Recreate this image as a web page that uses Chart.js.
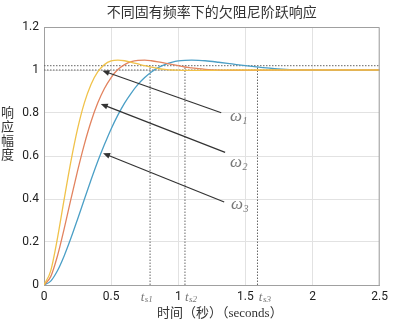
<!DOCTYPE html>
<html>
<head>
<meta charset="utf-8">
<script src="https://cdn.jsdelivr.net/npm/chart.js@4/dist/chart.umd.min.js"></script>
<style>
  body { margin: 0; background: #fff; }
  #wrap { width: 393px; height: 323px; }
</style>
</head>
<body>
<div id="wrap"><canvas id="chart" width="393" height="323"></canvas></div>
<script>
// time axis (seconds)
const timeSec = [0, 0.05, 0.1, 0.15, 0.2, 0.25, 0.3, 0.35, 0.4, 0.45, 0.5, 0.55, 0.6, 0.65,
  0.7, 0.75, 0.8, 0.85, 0.9, 0.95, 1.0, 1.05, 1.1, 1.15, 1.2,
  1.3, 1.4, 1.5, 1.6, 1.7, 1.8, 1.9, 2.0, 2.1, 2.2, 2.3, 2.4, 2.5];

// step responses
const respW1 = [0, 0.066, 0.217, 0.398, 0.574, 0.726, 0.846, 0.933, 0.991, 1.025, 1.042, 1.046, 1.043, 1.036,
  1.028, 1.020, 1.013, 1.007, 1.003, 1.000, 0.999, 0.998, 0.998, 0.998, 0.998,
  0.999, 1, 1, 1, 1, 1, 1, 1, 1, 1, 1, 1, 1];
const respW2 = [0, 0.039, 0.135, 0.261, 0.398, 0.531, 0.653, 0.759, 0.846, 0.914, 0.965, 1.002, 1.025, 1.039,
  1.045, 1.046, 1.043, 1.038, 1.032, 1.026, 1.020, 1.014, 1.010, 1.006, 1.003,
  0.999, 0.998, 0.998, 0.998, 0.999, 0.999, 1, 1, 1, 1, 1, 1, 1];
const respW3 = [0, 0.018, 0.066, 0.135, 0.217, 0.306, 0.398, 0.488, 0.574, 0.653, 0.726, 0.790, 0.846, 0.893,
  0.933, 0.965, 0.991, 1.011, 1.025, 1.035, 1.042, 1.045, 1.046, 1.045, 1.043,
  1.036, 1.028, 1.020, 1.013, 1.007, 1.003, 1.000, 0.999, 0.998, 0.998, 0.998, 0.998, 0.999];

const seriesNames = ['ω1', 'ω2', 'ω3'];
const seriesColors = ['#f0c24a', '#e2835f', '#4b9fc6'];

// settling band and settling times
const bandLevels = [1.0, 1.02];
const settleTimes = [0.79, 1.05, 1.59];
const settleSubs = ['s1', 's2', 's3'];
const settleLabelX = [0.72, 1.05, 1.60];

// arrow annotations (data units)
const arrowTipX = [0.435, 0.423, 0.440];
const arrowTipY = [0.997, 0.842, 0.613];
const arrowTailX = [1.320, 1.349, 1.342];
const arrowTailY = [0.801, 0.617, 0.386];
const omegaLabelX = [1.386, 1.386, 1.393];
const omegaLabelY = [0.763, 0.549, 0.353];

const xTicks = [0, 0.5, 1, 1.5, 2, 2.5];
const xTickLabels = ['0', '0.5', '1', '1.5', '2', '2.5'];
const yTicks = [0, 0.2, 0.4, 0.6, 0.8, 1, 1.2];
const yTickLabels = ['0', '0.2', '0.4', '0.6', '0.8', '1', '1.2'];

const chartTitle = '不同固有频率下的欠阻尼阶跃响应';
const xTitle = '时间（秒）（seconds）';
const yTitle = '响应幅度';

const tickFont = { family: 'Roboto, "Open Sans", sans-serif', size: 12 };
const cjkFont = '"Noto Sans CJK SC", sans-serif';

function points(ys) {
  return timeSec.map((t, i) => ({ x: t, y: ys[i] }));
}

let datasets = [respW1, respW2, respW3].map((ys, i) => ({
  label: seriesNames[i],
  data: points(ys),
  borderColor: seriesColors[i],
  borderWidth: 1.3,
  pointRadius: 0,
  cubicInterpolationMode: 'monotone',
}));

const dotted = { borderColor: '#666', borderWidth: 1, borderDash: [1.5, 1.5], pointRadius: 0 };
bandLevels.forEach((lvl) => {
  datasets.push(Object.assign({ label: 'band', data: [{ x: 0, y: lvl }, { x: 2.5, y: lvl }] }, dotted));
});
settleTimes.forEach((ts) => {
  datasets.push(Object.assign({ label: 'ts', data: [{ x: ts, y: 0 }, { x: ts, y: bandLevels[1] }] }, dotted));
});

// frame, arrows and hand-placed texts
const extras = {
  id: 'extras',
  afterDatasetsDraw(chart) {
    const ctx = chart.ctx;
    const xs = chart.scales.x, ys = chart.scales.y;
    const area = chart.chartArea;
    ctx.save();

    // top / right frame
    ctx.strokeStyle = '#a0a0a0';
    ctx.lineWidth = 1;
    ctx.beginPath();
    ctx.moveTo(area.left, area.top + 0.5);
    ctx.lineTo(area.right - 0.5, area.top + 0.5);
    ctx.lineTo(area.right - 0.5, area.bottom);
    ctx.stroke();

    // arrows
    ctx.strokeStyle = '#333';
    ctx.fillStyle = '#333';
    ctx.lineWidth = 1.2;
    for (let i = 0; i < arrowTipX.length; i++) {
      const x1 = xs.getPixelForValue(arrowTailX[i]), y1 = ys.getPixelForValue(arrowTailY[i]);
      const x2 = xs.getPixelForValue(arrowTipX[i]), y2 = ys.getPixelForValue(arrowTipY[i]);
      const ang = Math.atan2(y2 - y1, x2 - x1);
      ctx.beginPath();
      ctx.moveTo(x1, y1);
      ctx.lineTo(x2 - 4 * Math.cos(ang), y2 - 4 * Math.sin(ang));
      ctx.stroke();
      ctx.beginPath();
      ctx.moveTo(x2, y2);
      ctx.lineTo(x2 - 7 * Math.cos(ang) + 3 * Math.sin(ang), y2 - 7 * Math.sin(ang) - 3 * Math.cos(ang));
      ctx.lineTo(x2 - 7 * Math.cos(ang) - 3 * Math.sin(ang), y2 - 7 * Math.sin(ang) + 3 * Math.cos(ang));
      ctx.closePath();
      ctx.fill();
    }

    // omega labels
    ctx.fillStyle = '#777';
    ctx.textBaseline = 'alphabetic';
    ctx.textAlign = 'left';
    for (let i = 0; i < omegaLabelX.length; i++) {
      const x = xs.getPixelForValue(omegaLabelX[i]), y = ys.getPixelForValue(omegaLabelY[i]);
      ctx.font = 'italic 17px "Liberation Serif", serif';
      ctx.fillText('ω', x, y);
      const w = ctx.measureText('ω').width;
      ctx.font = 'italic 10px "Liberation Serif", serif';
      ctx.fillText(seriesNames[i].slice(1), x + w + 0.5, y + 3);
    }

    // settling time labels under the axis
    for (let i = 0; i < settleLabelX.length; i++) {
      const x = xs.getPixelForValue(settleLabelX[i]), y = area.bottom + 16;
      ctx.font = 'italic 13px "Liberation Serif", serif';
      ctx.fillText('t', x, y);
      const w = ctx.measureText('t').width;
      ctx.font = 'italic 9px "Liberation Serif", serif';
      ctx.fillText(settleSubs[i], x + w + 0.5, y + 1);
    }

    // chart title, centred a little right of the canvas middle
    ctx.fillStyle = '#333';
    ctx.textAlign = 'center';
    ctx.textBaseline = 'middle';
    ctx.font = '14px ' + cjkFont;
    ctx.fillText(chartTitle, (area.left + area.right) / 2, 12);

    // x-axis title
    ctx.font = '13px "Liberation Serif", "Noto Sans CJK SC", serif';
    ctx.fillText(xTitle, (area.left + area.right) / 2 + 8, area.bottom + 29);

    // vertical y-axis title, one character per line
    ctx.font = '13px ' + cjkFont;
    Array.from(yTitle).forEach((ch, i) => {
      ctx.fillText(ch, 7.5, 112 + i * 14);
    });
    ctx.restore();
  },
};

new Chart(document.getElementById('chart'), {
  type: 'line',
  data: { datasets },
  plugins: [extras],
  options: {
    responsive: false,
    animation: false,
    events: [],
    layout: { padding: { left: 0, right: 8, top: 27, bottom: 0 } },
    plugins: {
      legend: { display: false },
      tooltip: { enabled: false },
      title: { display: false },
    },
    scales: {
      x: {
        type: 'linear',
        min: 0,
        max: 2.5,
        afterBuildTicks: (s) => { s.ticks = xTicks.map((v) => ({ value: v })); },
        afterFit: (s) => { s.height = 38; },
        ticks: {
          font: tickFont,
          color: '#222',
          padding: 5,
          maxRotation: 0,
          callback: (v, i) => xTickLabels[i],
        },
        grid: { color: '#e2e2e2', drawTicks: false },
        border: { color: '#a0a0a0', width: 1 },
      },
      y: {
        min: 0,
        max: 1.2,
        afterBuildTicks: (s) => { s.ticks = yTicks.map((v) => ({ value: v })); },
        afterFit: (s) => { s.width = 44; },
        ticks: {
          font: tickFont,
          color: '#222',
          padding: 5,
          callback: (v, i) => yTickLabels[i],
        },
        grid: { color: '#e2e2e2', drawTicks: false },
        border: { color: '#a0a0a0', width: 1 },
      },
    },
  },
});
</script>
</body>
</html>
